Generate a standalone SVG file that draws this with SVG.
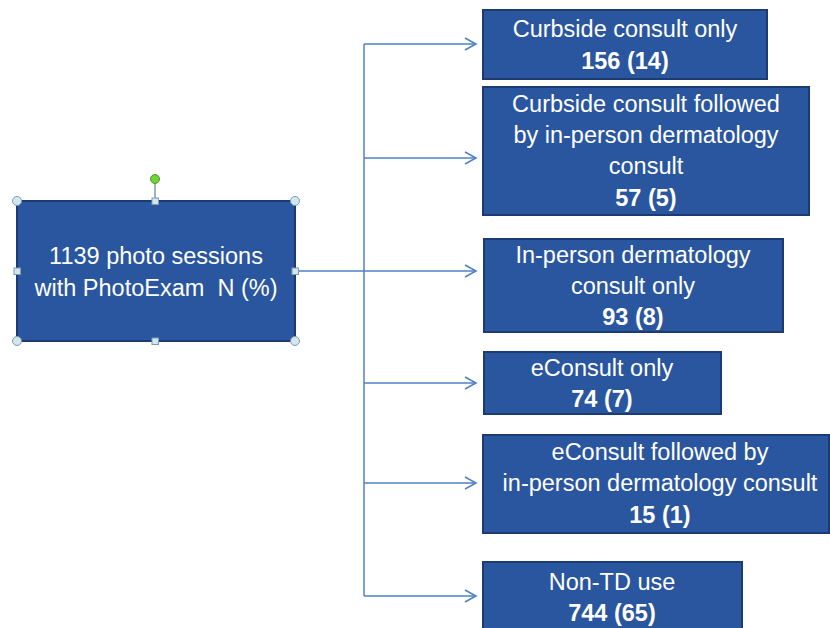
<svg xmlns="http://www.w3.org/2000/svg" width="830" height="628" viewBox="0 0 830 628">
<defs>
<style>
.box{fill:#2A56A0;stroke:#1B3B73;stroke-width:2}
.t{font-family:"Liberation Sans",Arial,sans-serif;font-size:23.5px;fill:#FFFFFF;text-anchor:middle}
.b{font-weight:bold}
.c{fill:none;stroke:#4F81C7;stroke-width:1.5}
.h{fill:#D2E6EE;stroke:#7E9CB0;stroke-width:1}
</style>
<marker id="arr" markerWidth="14" markerHeight="14" refX="12" refY="7" orient="auto" markerUnits="userSpaceOnUse">
<path d="M1,1 L12,7 L1,13" fill="none" stroke="#4F81C7" stroke-width="1.5"/>
</marker>
</defs>
<rect width="830" height="628" fill="#FFFFFF"/>
<g id="connectors">
<line class="c" x1="364" y1="44" x2="364" y2="596"/>
<line class="c" x1="364" y1="44" x2="476" y2="44" marker-end="url(#arr)"/>
<line class="c" x1="364" y1="158" x2="476" y2="158" marker-end="url(#arr)"/>
<line class="c" x1="295" y1="271" x2="476" y2="271" marker-end="url(#arr)"/>
<line class="c" x1="364" y1="383" x2="476" y2="383" marker-end="url(#arr)"/>
<line class="c" x1="364" y1="483" x2="476" y2="483" marker-end="url(#arr)"/>
<line class="c" x1="364" y1="596" x2="476" y2="596" marker-end="url(#arr)"/>
</g>
<g id="root">
<rect class="box" x="17" y="201" width="278" height="140"/>
<text class="t" x="156" y="264">1139 photo sessions</text>
<text class="t" x="156" y="296">with PhotoExam&#160; N (%)</text>
<line x1="155" y1="183" x2="155" y2="201" stroke="#7E9CB0" stroke-width="1.5"/>
<circle cx="155" cy="179" r="4.5" fill="#6FD43A" stroke="#4E9A2A" stroke-width="1"/>
<circle class="h" cx="17" cy="201" r="4.5"/>
<circle class="h" cx="295" cy="201" r="4.5"/>
<circle class="h" cx="17" cy="341" r="4.5"/>
<circle class="h" cx="295" cy="341" r="4.5"/>
<rect class="h" x="152" y="198" width="6.5" height="6.5"/>
<rect class="h" x="152" y="338" width="6.5" height="6.5"/>
<rect class="h" x="14" y="268" width="6.5" height="6.5"/>
<rect class="h" x="292" y="268" width="6.5" height="6.5"/>
</g>
<g id="n1">
<rect class="box" x="483" y="10" width="284" height="69"/>
<text class="t" x="625" y="37">Curbside consult only</text>
<text class="t b" x="625" y="69">156 (14)</text>
</g>
<g id="n2">
<rect class="box" x="483" y="87" width="326" height="128"/>
<text class="t" x="646" y="112">Curbside consult followed</text>
<text class="t" x="646" y="143">by in-person dermatology</text>
<text class="t" x="646" y="174">consult</text>
<text class="t b" x="646" y="206">57 (5)</text>
</g>
<g id="n3">
<rect class="box" x="484" y="239" width="299" height="93"/>
<text class="t" x="633" y="263">In-person dermatology</text>
<text class="t" x="633" y="294">consult only</text>
<text class="t b" x="633" y="325">93 (8)</text>
</g>
<g id="n4">
<rect class="box" x="484" y="352" width="237" height="62"/>
<text class="t" x="602" y="376">eConsult only</text>
<text class="t b" x="602" y="407">74 (7)</text>
</g>
<g id="n5">
<rect class="box" x="483" y="435" width="346" height="98"/>
<text class="t" x="660" y="460">eConsult followed by</text>
<text class="t" x="660" y="491">in-person dermatology consult</text>
<text class="t b" x="660" y="523">15 (1)</text>
</g>
<g id="n6">
<rect class="box" x="483" y="562" width="259" height="80"/>
<text class="t" x="612" y="590">Non-TD use</text>
<text class="t b" x="612" y="621">744 (65)</text>
</g>
</svg>
